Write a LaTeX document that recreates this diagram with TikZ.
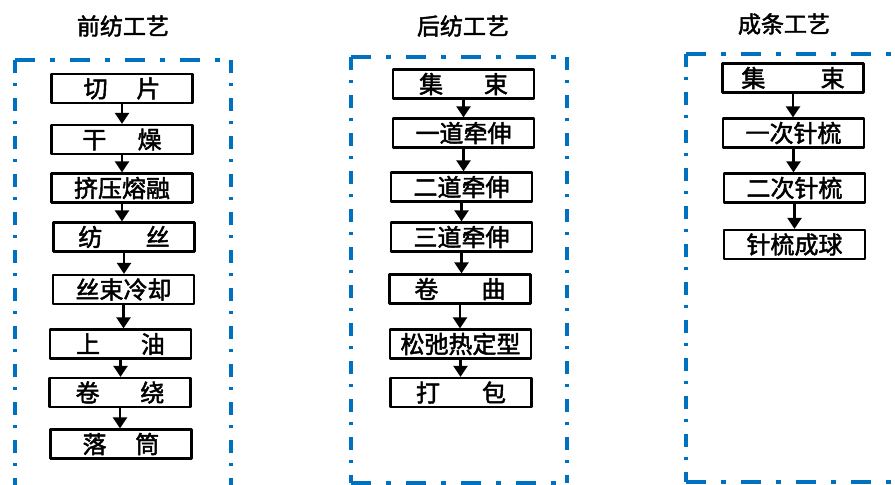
\documentclass[tikz,border=0pt]{standalone}
\usepackage{fontspec}
\setmainfont{Noto Sans CJK SC}[FakeBold=2]
\usetikzlibrary{arrows.meta}
\definecolor{frameblue}{RGB}{0,112,192}

\begin{document}
\begin{tikzpicture}[x=1pt,y=-1pt,line join=round,>={Triangle[width=14pt,length=11pt]},
  stepbox/.style={draw,line width=2.3pt,minimum width=141pt,minimum height=29pt,inner sep=0pt,font=\fontsize{24}{26}\selectfont},
  title/.style={font=\fontsize{23}{25}\selectfont},
  hframe/.style={frameblue,line width=4pt,dash pattern=on 20pt off 15pt on 5pt off 15pt},
  vframe/.style={frameblue,line width=4pt,dash pattern=on 13pt off 10pt on 3pt off 12pt},
  link/.style={->,line width=2.5pt}]
\useasboundingbox (0,0) rectangle (895,485);
\clip (0,0) rectangle (895,485);
% frames
\draw[hframe] (15,60) -- (231,60);
\draw[vframe] (15,60) -- (15,505) (231,60) -- (231,505);
\draw[hframe] (351,57) -- (567,57) (351,483) -- (567,483);
\draw[vframe] (351,57) -- (351,483) (567,57) -- (567,483);
\draw[hframe] (686,54) -- (910,54) (686,482) -- (910,482);
\draw[vframe] (686,54) -- (686,482);
% titles
\node[title] (tq) at (123,26) {前纺工艺};
\node[title] (th) at (463,26) {后纺工艺};
\node[title] (tc) at (784,24) {成条工艺};
% 前纺
\node[stepbox] (q1) at (122,88.5) {切\hspace{1.2em}片};
\node[stepbox] (q2) at (122,139.5) {干\hspace{1.3em}燥};
\node[stepbox] (q3) at (122,188) {挤压熔融};
\node[stepbox] (q4) at (124,237) {纺\hspace{1.8em}丝};
\node[stepbox] (q5) at (123.5,289.5) {丝束冷却};
\node[stepbox] (q6) at (120.5,344) {上\hspace{1.7em}油};
\node[stepbox] (q7) at (120,392.5) {卷\hspace{1.7em}绕};
\node[stepbox] (q8) at (121,444) {落\hspace{1.2em}筒};
% 后纺
\node[stepbox] (h1) at (463.5,84) {集\hspace{1.7em}束};
\node[stepbox] (h2) at (463.5,133) {一道牵伸};
\node[stepbox] (h3) at (461.5,187) {二道牵伸};
\node[stepbox] (h4) at (461.5,237) {三道牵伸};
\node[stepbox] (h5) at (460,289) {卷\hspace{1.8em}曲};
\node[stepbox] (h6) at (460.5,344) {松弛热定型};
\node[stepbox] (h7) at (461,392.5) {打\hspace{1.75em}包};
% 成条
\node[stepbox] (c1) at (793,78) {集\hspace{2.3em}束};
\node[stepbox] (c2) at (793.5,133) {一次针梳};
\node[stepbox] (c3) at (794.5,188) {二次针梳};
\node[stepbox] (c4) at (794.5,244.5) {针梳成球};
% arrows
\foreach \a/\b in {q1/q2,q2/q3,q3/q4,q4/q5,q5/q6,q6/q7,q7/q8,h1/h2,h2/h3,h3/h4,h4/h5,h5/h6,h6/h7,c1/c2,c2/c3,c3/c4}
  \draw[link] (\a.south) -- (\a.south |- \b.north);
\end{tikzpicture}
\end{document}
